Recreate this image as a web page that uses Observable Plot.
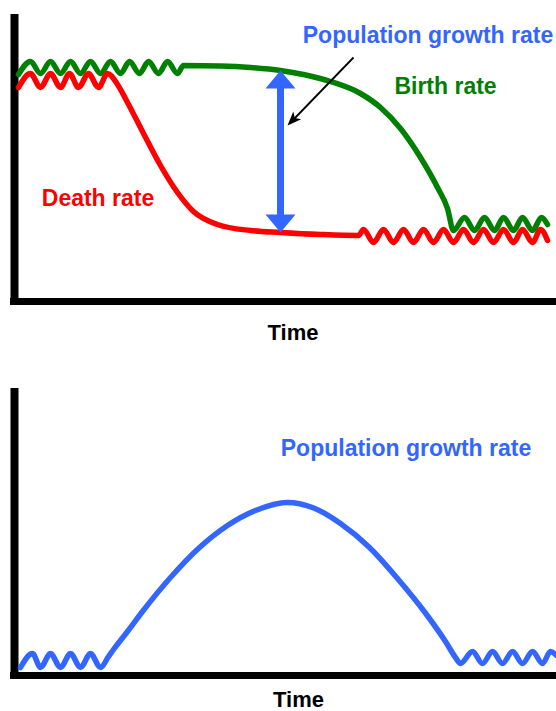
<!DOCTYPE html>
<html>
<head>
<meta charset="utf-8">
<script src="https://cdn.jsdelivr.net/npm/d3@7"></script>
<script src="https://cdn.jsdelivr.net/npm/@observablehq/plot@0.6"></script>
<style>
  html, body { margin: 0; padding: 0; background: #fff; }
  #top, #bottom { width: 556px; }
  svg { display: block; overflow: visible; }
</style>
</head>
<body>
<div id="top"></div>
<div id="bottom"></div>
<script>
// ---- Data (arbitrary time / rate units) ----
const birthTime = [4,16,26,36,46,56,66,76,86,96,106,115,125,134,144,153,163,169,206,236,266,289,316,346,366,386,406,423,433,439,450,460,470,480,489,499,508,518,527,533];
const birthRate = [227,240,228,240,228,240,228,240,228,240,228,240,228,240,228,240,228,236,235.5,234,231,227,220,208,194,173,144,114,93,71,84,71,84,71,84,71,84,71,84,77];

const deathTime = [4,16,26,36,46,55,64,74,84,93,103,113,129,146,163,179,203,236,266,306,344,349,359,369,379,389,399,409,419,429,439,449,459,469,479,489,499,508,518,526,533];
const deathRate = [214,228,214,228,214,228,214,228,214,228,217,199,168,136,109,90,77,71,69,67,66,72,59,72,59,72,59,72,59,72,59,72,59,72,59,72,59,72,59,72,61];

const growthTime = [6,18,26,36,46,56,66,76,86,94,99,113,128,156,185,213,241,273,298,326,355,383,412,431,441,446,458,468,478,488,498,508,518,528,536,542];
const growthRate = [8,22,8,22,8,22,8,22,8,19,26,44,64,98,128,150,165,173,168,152,128,97,61,34,18,12,24,12,24,12,24,12,24,12,24,20];

const labels = ["Birth rate", "Death rate", "Population growth rate", "Time"];
const arrowTime = 266;           // time at which the growth-rate gap is marked
const pointerFrom = [339, 244];  // annotation pointer start (time, rate)
const pointerTo = [273, 176];    // annotation pointer end (time, rate)

// ---- Styles ----
const GREEN = "#008000", RED = "#ff0000", BLUE = "#3366ff";
const FONT = "Liberation Sans, Arial, Helvetica, sans-serif";

const birth = birthTime.map((t, i) => ({t, r: birthRate[i]}));
const death = deathTime.map((t, i) => ({t, r: deathRate[i]}));
const growth = growthTime.map((t, i) => ({t, r: growthRate[i]}));

const gapTop = birthRate[birthTime.indexOf(arrowTime)];
const gapBottom = deathRate[deathTime.indexOf(arrowTime)];

const head = { draw(ctx) { ctx.moveTo(0, 0); ctx.lineTo(15, 18); ctx.lineTo(-15, 18); ctx.closePath(); } };
const smallHead = { draw(ctx) { ctx.moveTo(0, 0); ctx.lineTo(5.5, 14); ctx.lineTo(0, 10.5); ctx.lineTo(-5.5, 14); ctx.closePath(); } };
// x and y scales are 1 unit per pixel, so the pointer angle follows from the data
const pointerAngle = Math.atan2(pointerTo[0] - pointerFrom[0], pointerTo[1] - pointerFrom[1]) * 180 / Math.PI;

const textStyle = {fontFamily: FONT, fontWeight: "bold", fontSize: 23, lineAnchor: "middle"};

const topChart = Plot.plot({
  width: 556, height: 350,
  marginLeft: 14, marginRight: 0, marginTop: 15, marginBottom: 49,
  x: {domain: [0, 542], axis: null},
  y: {domain: [0, 286], axis: null},
  marks: [
    Plot.ruleX([0], {y1: -4, y2: 287, stroke: "black", strokeWidth: 8}),
    Plot.ruleY([0], {x1: -4, x2: 542, stroke: "black", strokeWidth: 7}),
    Plot.line(birth, {x: "t", y: "r", stroke: GREEN, strokeWidth: 5.5, curve: "monotone-x"}),
    Plot.line(death, {x: "t", y: "r", stroke: RED, strokeWidth: 5.5, curve: "monotone-x"}),
    Plot.ruleX([arrowTime], {y1: gapBottom + 17, y2: gapTop - 17, stroke: BLUE, strokeWidth: 7}),
    Plot.dot([{t: arrowTime, r: gapTop}], {x: "t", y: "r", symbol: head, r: 10, fill: BLUE, stroke: null}),
    Plot.dot([{t: arrowTime, r: gapBottom}], {x: "t", y: "r", symbol: head, r: 10, fill: BLUE, stroke: null, rotate: 180}),
    Plot.link([{x1: pointerFrom[0], y1: pointerFrom[1], x2: pointerTo[0] + 6, y2: pointerTo[1] + 6}],
      {x1: "x1", y1: "y1", x2: "x2", y2: "y2", stroke: "black", strokeWidth: 1.8}),
    Plot.dot([{t: pointerTo[0], r: pointerTo[1]}], {x: "t", y: "r", symbol: smallHead, r: 6, fill: "black", stroke: null, rotate: pointerAngle}),
    Plot.text([{x: 413.5, y: 266, s: labels[2]}], {x: "x", y: "y", text: "s", fill: BLUE, ...textStyle}),
    Plot.text([{x: 431, y: 215, s: labels[0]}], {x: "x", y: "y", text: "s", fill: GREEN, ...textStyle}),
    Plot.text([{x: 83.5, y: 103, s: labels[1]}], {x: "x", y: "y", text: "s", fill: RED, ...textStyle}),
    Plot.text([{x: 278.5, s: labels[3]}], {x: "x", text: "s", frameAnchor: "bottom", dy: 31, fill: "black", ...textStyle, fontSize: 22})
  ]
});
document.getElementById("top").append(topChart);

const bottomChart = Plot.plot({
  width: 556, height: 361,
  marginLeft: 14, marginRight: 0, marginTop: 38, marginBottom: 36,
  x: {domain: [0, 542], axis: null},
  y: {domain: [0, 287], axis: null},
  marks: [
    Plot.ruleX([0], {y1: -3.5, y2: 287, stroke: "black", strokeWidth: 8}),
    Plot.ruleY([0], {x1: -4, x2: 542, stroke: "black", strokeWidth: 7}),
    Plot.line(growth, {x: "t", y: "r", stroke: BLUE, strokeWidth: 5.5, curve: "monotone-x"}),
    Plot.text([{x: 391.5, y: 227, s: labels[2]}], {x: "x", y: "y", text: "s", fill: BLUE, ...textStyle}),
    Plot.text([{x: 284, s: labels[3]}], {x: "x", text: "s", frameAnchor: "bottom", dy: 24, fill: "black", ...textStyle, fontSize: 22})
  ]
});
document.getElementById("bottom").append(bottomChart);
</script>
</body>
</html>
